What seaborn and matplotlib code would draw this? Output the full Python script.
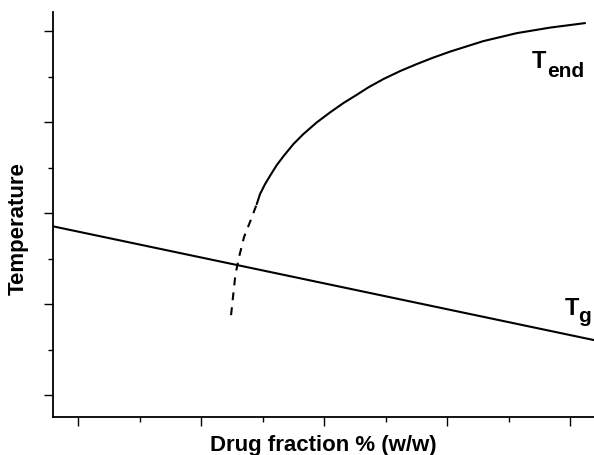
import matplotlib
matplotlib.use("Agg")
import matplotlib.pyplot as plt
import seaborn as sns
import numpy as np
import pandas as pd
from matplotlib.ticker import MultipleLocator, NullFormatter

sns.set_theme(style="ticks")
plt.rcParams['font.family'] = ['Liberation Sans', 'DejaVu Sans']
plt.rcParams['text.color'] = 'black'
plt.rcParams['axes.labelcolor'] = 'black'

# Data (arbitrary units)
tend_x = [29.06, 29.59, 30.41, 31.22, 32.31, 33.38, 35.01, 36.63, 38.81, 40.98, 43.14,
          45.32, 47.20, 49.64, 52.36, 55.07, 57.77, 60.49, 65.90, 71.33, 76.75, 82.44]
tend_y = [41.98, 44.18, 46.37, 48.20, 50.55, 52.46, 55.16, 57.36, 59.93, 62.13, 64.18,
          66.00, 67.63, 69.45, 71.21, 72.75, 74.18, 75.49, 77.80, 79.55, 80.77, 81.76]
tend_dash_x = [24.88, 25.25, 25.58, 26.18, 26.99, 28.08, 29.06]
tend_dash_y = [17.58, 22.20, 26.37, 30.33, 34.73, 38.46, 41.98]
tg_x = [-4.07, 83.9]
tg_y = [37.1, 12.1]

fig = plt.figure(figsize=(5.94, 4.56), dpi=100)
ax = fig.add_axes([53/594, 38/456, 1 - 53/594, (418-13)/456])

lw = 1.5
sns.lineplot(x=tg_x, y=tg_y, ax=ax, color='black', lw=lw, estimator=None, sort=False)
sns.lineplot(x=tend_x, y=tend_y, ax=ax, color='black', lw=lw, estimator=None, sort=False)
sns.lineplot(x=tend_dash_x, y=tend_dash_y, ax=ax, color='black', lw=lw, estimator=None,
             sort=False, linestyle=(0, (3.8, 3.4)))

ax.set_xlim(-4.07, 83.9)
ax.set_ylim(-4.8, 84.2)
ax.xaxis.set_major_locator(MultipleLocator(20))
ax.xaxis.set_minor_locator(MultipleLocator(10))
ax.yaxis.set_major_locator(MultipleLocator(20))
ax.yaxis.set_minor_locator(MultipleLocator(10))
ax.xaxis.set_major_formatter(NullFormatter())
ax.yaxis.set_major_formatter(NullFormatter())
ax.tick_params(which='major', length=6.5, width=1.0, color='black', direction='out')
ax.tick_params(which='minor', length=3.6, width=1.0, color='black', direction='out')
for s in ['top', 'right']:
    ax.spines[s].set_visible(False)
for s in ['left', 'bottom']:
    ax.spines[s].set_linewidth(1.3)
    ax.spines[s].set_color('black')

ax.set_xlabel('Drug fraction % (w/w)', fontsize=16, fontweight='bold', color='black')
ax.set_ylabel('Temperature', fontsize=16, fontweight='bold', color='black')
ax.xaxis.set_label_coords(0.5, -0.043)
ax.yaxis.set_label_coords(-0.044, 0.467)

ax.text(73.8, 72.1, 'T', fontsize=17, fontweight='bold', ha='left', va='baseline')
ax.text(76.26, 70.1, 'end', fontsize=15, fontweight='bold', ha='left', va='baseline')
ax.text(79.2, 17.8, 'T', fontsize=17, fontweight='bold', ha='left', va='baseline')
ax.text(81.3, 16.3, 'g', fontsize=15, fontweight='bold', ha='left', va='baseline')

fig.savefig('out.png', dpi=100)
